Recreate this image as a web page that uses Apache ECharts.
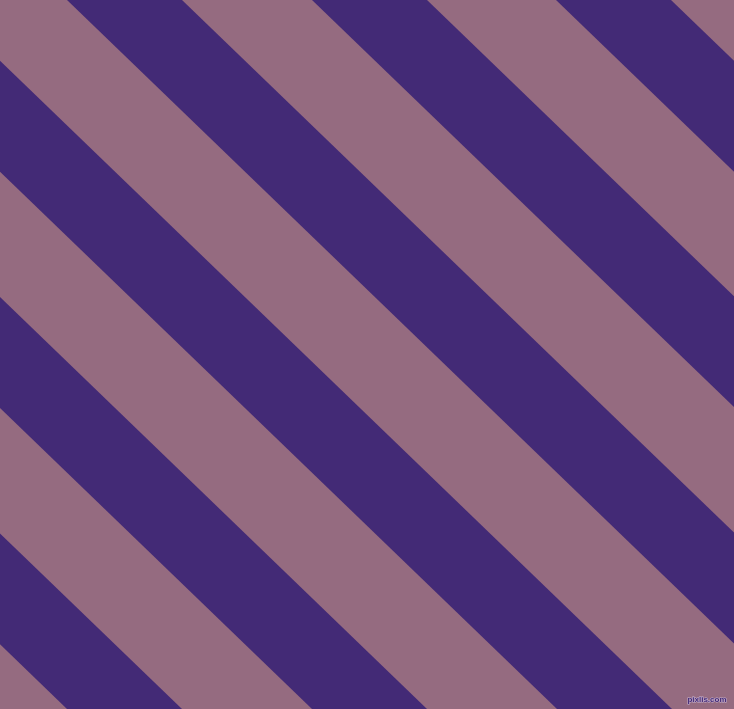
<!DOCTYPE html>
<html>
<head>
<meta charset="utf-8">
<title>stripes</title>
<script src="https://cdn.jsdelivr.net/npm/echarts@6/dist/echarts.min.js"></script>
<style>
  html, body { margin: 0; padding: 0; background: #956b80; }
  #chart { width: 734px; height: 709px; }
</style>
</head>
<body>
<div id="chart"></div>
<script>
// purple bands, read where each one crosses the top edge (x in px)
var bandStarts = [-668, -423, -178, 67, 312, 556];
var bandEnds   = [-553, -308, -63, 182, 427, 671];
// how far a band has moved right by the time it reaches the bottom edge
var shiftAtBottom = 735;
var pageWidth = 734;
var pageHeight = 709;

var bands = [];
for (var i = 0; i < bandStarts.length; i++) {
    bands.push([bandStarts[i], bandEnds[i]]);
}

var mychart = echarts.init(document.getElementById("chart"));
var option = {
    backgroundColor: '#956b80',
    animation: false,
    grid: { left: 0, right: 0, top: 0, bottom: 0 },
    xAxis: { type: 'value', min: 0, max: pageWidth, show: false },
    yAxis: { type: 'value', min: 0, max: pageHeight, inverse: true, show: false },
    series: [
        {
            type: 'custom',
            clip: true,
            data: bands,
            renderItem: function (params, api) {
                var s = api.value(0), e = api.value(1);
                var pts = [
                    api.coord([s, 0]),
                    api.coord([e, 0]),
                    api.coord([e + shiftAtBottom, pageHeight]),
                    api.coord([s + shiftAtBottom, pageHeight])
                ];
                return {
                    type: 'polygon',
                    shape: { points: pts },
                    style: { fill: '#432a76' }
                };
            }
        }
    ],
    graphic: [
        {
            type: 'text',
            right: 7,
            bottom: 5,
            style: {
                text: 'pixlis.com',
                font: 'bold 8px "Liberation Sans", sans-serif',
                fill: '#432a76',
                stroke: '#c8b4d2',
                lineWidth: 1
            }
        }
    ]
};
mychart.setOption(option);
</script>
</body>
</html>
